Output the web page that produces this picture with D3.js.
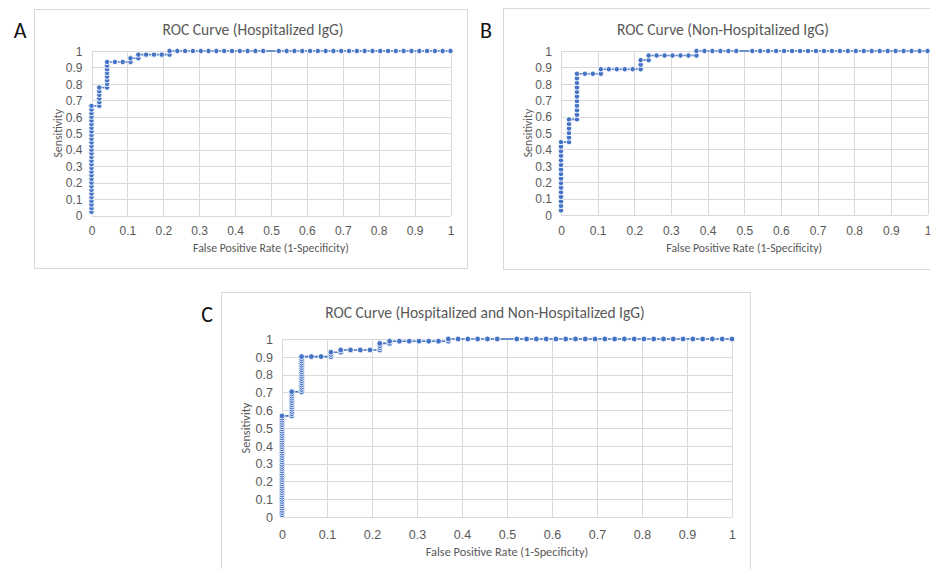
<!DOCTYPE html>
<html>
<head>
<meta charset="utf-8">
<script src="https://cdn.jsdelivr.net/npm/d3@7"></script>
<style>
  html, body { margin: 0; padding: 0; background: #fff; }
  svg { display: block; font-family: Carlito, Lato, "Liberation Sans", sans-serif; }
</style>
</head>
<body>
<svg id="chart" width="930" height="569"></svg>
<script>
// ROC operating points, stored as counts: false positives (out of 46 controls)
// and true positives (out of each group's case count), one pair per threshold.
const negatives = 46;

// Hospitalized IgG, 45 cases
const hospCases = 45;
const hospFP = [
  0,0,0,0,0,0,0,0,0,0, 0,0,0,0,0,0,0,0,0,0, 0,0,0,0,0,0,0,0,0,0,
  1,1,1,1,1,1,
  2,2,2,2,2,2,2,2,
  3,4,5,5,6,6,7,8,9,10,10,
  11,12,13,14,15,16,17,18,19,20,21,22,
  24,25,26,27,28,29,30,31,32,33,34,35,36,37,38,39,40,41,42,43,44,45,46
];
const hospTP = [
  1,2,3,4,5,6,7,8,9,10, 11,12,13,14,15,16,17,18,19,20, 21,22,23,24,25,26,27,28,29,30,
  30,31,32,33,34,35,
  35,36,37,38,39,40,41,42,
  42,42,42,43,43,44,44,44,44,44,45,
  45,45,45,45,45,45,45,45,45,45,45,45,
  45,45,45,45,45,45,45,45,45,45,45,45,45,45,45,45,45,45,45,45,45,45,45
];

// Non-hospitalized IgG, 36 cases
const nonHospCases = 36;
const nonHospFP = [
  0,0,0,0,0,0,0,0,0,0,0,0,0,0,0,0,
  1,1,1,1,1,1,
  2,2,2,2,2,2,2,2,2,2,2,
  3,4,5,5,6,7,8,9,10,10,10,11,11,
  12,13,14,15,16,17,17,
  18,19,20,21,22,
  24,25,26,27,28,29,30,31,32,33,34,35,36,37,38,39,40,41,42,43,44,45,46
];
const nonHospTP = [
  1,2,3,4,5,6,7,8,9,10,11,12,13,14,15,16,
  16,17,18,19,20,21,
  21,22,23,24,25,26,27,28,29,30,31,
  31,31,31,32,32,32,32,32,32,33,34,34,35,
  35,35,35,35,35,35,36,
  36,36,36,36,36,
  36,36,36,36,36,36,36,36,36,36,36,36,36,36,36,36,36,36,36,36,36,36,36
];

// Hospitalized and non-hospitalized IgG combined, 81 cases
const allCases = 81;
const allFP = [
  0,0,0,0,0,0,0,0,0,0, 0,0,0,0,0,0,0,0,0,0, 0,0,0,0,0,0,0,0,0,0,
  0,0,0,0,0,0,0,0,0,0, 0,0,0,0,0,0,
  1,1,1,1,1,1,1,1,1,1,1,1,
  2,2,2,2,2,2,2,2,2,2,2,2,2,2,2,2,2,
  3,4,5,5,5,6,6,7,8,9,10,10,10,10,11,11,
  12,13,14,15,16,17,17,
  18,19,20,21,22,
  24,25,26,27,28,29,30,31,32,33,34,35,36,37,38,39,40,41,42,43,44,45,46
];
const allTP = [
  1,2,3,4,5,6,7,8,9,10, 11,12,13,14,15,16,17,18,19,20, 21,22,23,24,25,26,27,28,29,30,
  31,32,33,34,35,36,37,38,39,40, 41,42,43,44,45,46,
  46,47,48,49,50,51,52,53,54,55,56,57,
  57,58,59,60,61,62,63,64,65,66,67,68,69,70,71,72,73,
  73,73,73,74,75,75,76,76,76,76,76,77,78,79,79,80,
  80,80,80,80,80,80,81,
  81,81,81,81,81,
  81,81,81,81,81,81,81,81,81,81,81,81,81,81,81,81,81,81,81,81,81,81,81
];

// Axis ticks shared by every panel
const tickValues = [0, 0.1, 0.2, 0.3, 0.4, 0.5, 0.6, 0.7, 0.8, 0.9, 1];
const tickLabels = ["0", "0.1", "0.2", "0.3", "0.4", "0.5", "0.6", "0.7", "0.8", "0.9", "1"];

const xTitle = "False Positive Rate (1-Specificity)";
const yTitle = "Sensitivity";

const panels = [
  { letter: "A", title: "ROC Curve (Hospitalized IgG)",
    fp: hospFP, tp: hospTP, cases: hospCases,
    frame: [34.5, 9.5, 433, 259], letterPos: [20, 38],
    plot: { x0: 91.5, x1: 450.5, y0: 215.5, y1: 51 },
    titleX: 253, titleY: 34.5, titleSize: 15.5, tickSize: 12, axisSize: 11.8,
    yTitleX: 58, xTickY: 235, xTitleY: 252, r: 2.7 },
  { letter: "B", title: "ROC Curve (Non-Hospitalized IgG)",
    fp: nonHospFP, tp: nonHospTP, cases: nonHospCases,
    frame: [503.5, 8.5, 440, 261], letterPos: [486, 38],
    plot: { x0: 561, x1: 927.5, y0: 215, y1: 51 },
    titleX: 723, titleY: 34.5, titleSize: 15.5, tickSize: 12, axisSize: 11.8,
    yTitleX: 528, xTickY: 235, xTitleY: 252, r: 2.7 },
  { letter: "C", title: "ROC Curve (Hospitalized and Non-Hospitalized IgG)",
    fp: allFP, tp: allTP, cases: allCases,
    frame: [221.5, 292.5, 529, 300], letterPos: [207, 322],
    plot: { x0: 282, x1: 732, y0: 517, y1: 339 },
    titleX: 485, titleY: 317.5, titleSize: 15.5, tickSize: 12.5, axisSize: 12.3,
    yTitleX: 246, xTickY: 538.5, xTitleY: 556, r: 2.9 }
];

const blue = "#4472C4";
const grid = "#d9d9d9";
const textGray = "#595959";

const svg = d3.select("#chart");
svg.append("rect").attr("width", 930).attr("height", 569).attr("fill", "#fff");

panels.forEach(p => {
  const g = svg.append("g");

  // chart area border
  g.append("rect")
    .attr("x", p.frame[0]).attr("y", p.frame[1])
    .attr("width", p.frame[2]).attr("height", p.frame[3])
    .attr("fill", "#fff").attr("stroke", grid).attr("stroke-width", 1);

  // panel letter
  svg.append("text")
    .attr("x", p.letterPos[0]).attr("y", p.letterPos[1])
    .attr("text-anchor", "middle")
    .attr("font-size", 22).attr("fill", "#111")
    .text(p.letter);

  const x = d3.scaleLinear().domain([0, 1]).range([p.plot.x0, p.plot.x1]);
  const y = d3.scaleLinear().domain([0, 1]).range([p.plot.y0, p.plot.y1]);

  // gridlines
  g.append("g").selectAll("line").data(tickValues).join("line")
    .attr("x1", d => Math.round(x(d)) + 0.5).attr("x2", d => Math.round(x(d)) + 0.5)
    .attr("y1", p.plot.y1).attr("y2", p.plot.y0)
    .attr("stroke", grid).attr("stroke-width", 1);
  g.append("g").selectAll("line").data(tickValues).join("line")
    .attr("y1", d => Math.round(y(d)) + 0.5).attr("y2", d => Math.round(y(d)) + 0.5)
    .attr("x1", p.plot.x0).attr("x2", p.plot.x1)
    .attr("stroke", grid).attr("stroke-width", 1);

  // axes: labels only, gridlines serve as axis lines
  const xAxis = d3.axisBottom(x).tickValues(tickValues)
    .tickFormat((d, i) => tickLabels[i]).tickSize(0).tickPadding(0);
  const yAxis = d3.axisLeft(y).tickValues(tickValues)
    .tickFormat((d, i) => tickLabels[i]).tickSize(0).tickPadding(9);

  const gx = g.append("g").attr("transform", `translate(0,${p.xTickY})`).call(xAxis);
  const gy = g.append("g").attr("transform", `translate(${p.plot.x0},0)`).call(yAxis);
  [gx, gy].forEach(a => {
    a.select(".domain").remove();
    a.selectAll("text").attr("fill", textGray).attr("font-size", p.tickSize)
      .attr("font-family", null);
  });
  gx.selectAll("text").attr("y", 0).attr("dy", 0);
  gy.selectAll("text").attr("dy", "0.35em");

  // titles
  g.append("text").attr("x", p.titleX).attr("y", p.titleY)
    .attr("text-anchor", "middle").attr("font-size", p.titleSize)
    .attr("fill", textGray).text(p.title);
  g.append("text").attr("x", (p.plot.x0 + p.plot.x1) / 2).attr("y", p.xTitleY)
    .attr("text-anchor", "middle").attr("font-size", p.axisSize)
    .attr("fill", textGray).text(xTitle);
  g.append("text")
    .attr("transform", `translate(${p.yTitleX},${(p.plot.y0 + p.plot.y1) / 2}) rotate(-90)`)
    .attr("text-anchor", "middle").attr("dy", "0.35em").attr("font-size", p.axisSize)
    .attr("fill", textGray).text(yTitle);

  // ROC curve
  const pts = p.fp.map((f, i) => ({ fpr: f / negatives, tpr: p.tp[i] / p.cases }));
  const line = d3.line().x(d => x(d.fpr)).y(d => y(d.tpr));
  g.append("path").datum(pts)
    .attr("d", line).attr("fill", "none")
    .attr("stroke", blue).attr("stroke-width", 1.6);
  g.append("g").selectAll("circle").data(pts).join("circle")
    .attr("cx", d => x(d.fpr)).attr("cy", d => y(d.tpr))
    .attr("r", p.r)
    .attr("fill", blue).attr("stroke", "#fff").attr("stroke-width", 0.9);
});
</script>
</body>
</html>
